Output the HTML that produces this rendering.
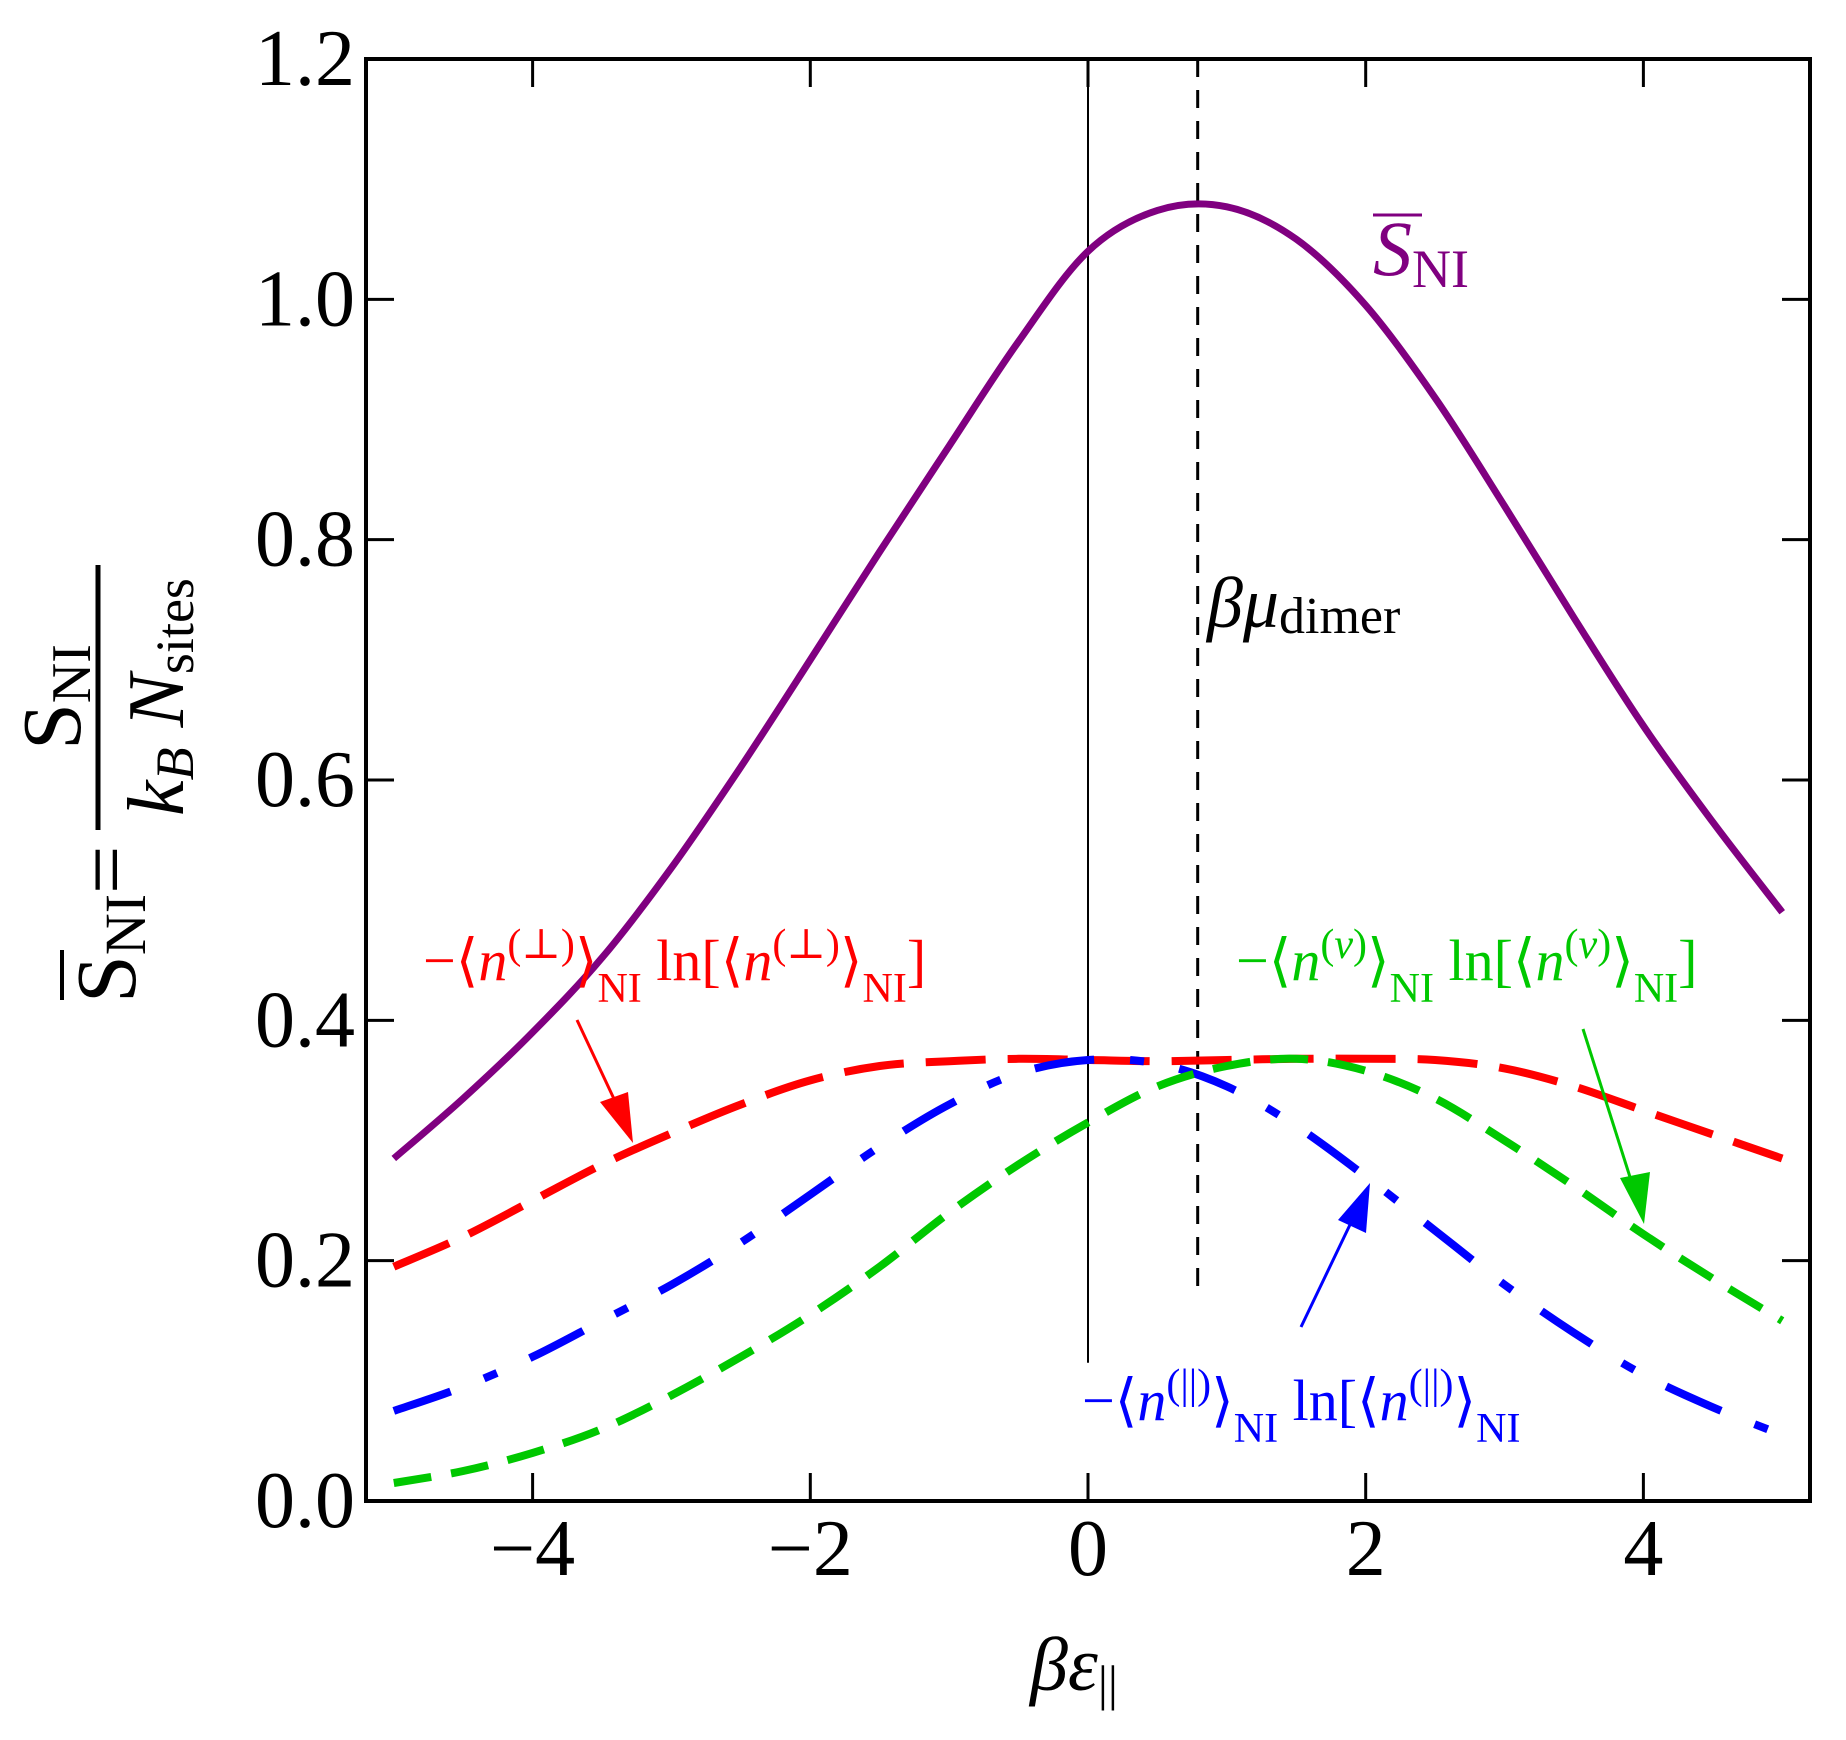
<!DOCTYPE html>
<html><head><meta charset="utf-8"><style>
html,body{margin:0;padding:0;background:#fff;}
svg{display:block;font-family:"Liberation Serif","DejaVu Serif",serif;}
</style></head><body>
<svg id="chart" width="1846" height="1740" viewBox="0 0 1846 1740" xmlns="http://www.w3.org/2000/svg">
<g id="marks"></g>
<g id="axes"></g>
<text x="1373" y="275" font-size="78" fill="#800080" font-style="italic">S<tspan font-style="normal" font-size="54" dy="12">NI</tspan></text>
<line x1="1373" y1="215" x2="1422" y2="215" stroke="#800080" stroke-width="3"/>
<text x="1207" y="627" font-size="72" fill="#000"><tspan font-style="italic">βμ</tspan><tspan font-size="52" dy="6">dimer</tspan></text>
<text x="423" y="980" font-size="58" fill="#ff0000">−⟨<tspan font-style="italic">n</tspan><tspan font-size="42" dy="-22">(⊥)</tspan><tspan dy="22">⟩</tspan><tspan font-size="42" dy="22">NI</tspan><tspan dy="-22"> ln[⟨</tspan><tspan font-style="italic">n</tspan><tspan font-size="42" dy="-22">(⊥)</tspan><tspan dy="22">⟩</tspan><tspan font-size="42" dy="22">NI</tspan><tspan dy="-22">]</tspan></text>
<text x="1236" y="980" font-size="58" fill="#00c800">−⟨<tspan font-style="italic">n</tspan><tspan font-size="42" dy="-22">(<tspan font-style="italic">v</tspan>)</tspan><tspan dy="22">⟩</tspan><tspan font-size="42" dy="22">NI</tspan><tspan dy="-22"> ln[⟨</tspan><tspan font-style="italic">n</tspan><tspan font-size="42" dy="-22">(<tspan font-style="italic">v</tspan>)</tspan><tspan dy="22">⟩</tspan><tspan font-size="42" dy="22">NI</tspan><tspan dy="-22">]</tspan></text>
<text x="1082" y="1420" font-size="58" fill="#0000ff">−⟨<tspan font-style="italic">n</tspan><tspan font-size="42" dy="-22">(||)</tspan><tspan dy="22">⟩</tspan><tspan font-size="42" dy="22">NI</tspan><tspan dy="-22"> ln[⟨</tspan><tspan font-style="italic">n</tspan><tspan font-size="42" dy="-22">(||)</tspan><tspan dy="22">⟩</tspan><tspan font-size="42" dy="22">NI</tspan></text>
<g><line x1="577" y1="1020" x2="622" y2="1116" stroke="#ff0000" stroke-width="3"/><polygon points="633,1143 600,1102 628,1092" fill="#ff0000"/></g>
<g><line x1="1583" y1="1029" x2="1636" y2="1196" stroke="#00c800" stroke-width="3"/><polygon points="1644,1224 1620,1178 1650,1172" fill="#00c800"/></g>
<g><line x1="1301" y1="1327" x2="1358" y2="1208" stroke="#0000ff" stroke-width="3"/><polygon points="1370,1183 1366,1233 1338,1220" fill="#0000ff"/></g>
<text x="1030" y="1690" font-size="76" font-style="italic">βε<tspan font-style="normal" font-size="50" dy="10">||</tspan></text>
<g>
<text transform="translate(135,1003) rotate(-90)" font-size="86">S<tspan font-size="58" dy="10">NI</tspan><tspan dy="-10">=</tspan></text>
<line x1="62" y1="950" x2="62" y2="1000" stroke="#000" stroke-width="4"/>
<line x1="98" y1="565" x2="98" y2="830" stroke="#000" stroke-width="5"/>
<text transform="translate(80,697) rotate(-90)" font-size="84" text-anchor="middle">S<tspan font-size="56" dy="10">NI</tspan></text>
<text transform="translate(183,697) rotate(-90)" font-size="80" text-anchor="middle"><tspan font-style="italic">k</tspan><tspan font-style="italic" font-size="54" dy="10">B</tspan><tspan font-style="italic" dy="-10"> N</tspan><tspan font-size="54" dy="10">sites</tspan></text>
</g>
</svg>
<script>
const xs=[-5,-4.5,-4,-3.5,-3,-2.5,-2,-1.5,-1,-0.5,0,0.5,1,1.5,2,2.5,3,3.5,4,4.5,5];
const sTotal=[0.285,0.335,0.39,0.452,0.527,0.611,0.70,0.79,0.878,0.965,1.04,1.074,1.077,1.05,0.995,0.918,0.828,0.735,0.645,0.565,0.49];
const perp=[0.195,0.22,0.25,0.28,0.306,0.33,0.35,0.362,0.366,0.368,0.367,0.366,0.367,0.368,0.368,0.367,0.36,0.345,0.325,0.305,0.285];
const para=[0.075,0.095,0.12,0.15,0.18,0.215,0.255,0.295,0.33,0.356,0.367,0.364,0.345,0.312,0.27,0.225,0.18,0.14,0.105,0.078,0.055];
const vac=[0.015,0.025,0.04,0.06,0.088,0.12,0.155,0.195,0.24,0.28,0.315,0.345,0.362,0.368,0.358,0.335,0.3,0.262,0.222,0.185,0.15];
const xTicks=[-4,-2,0,2,4];
const xTickLabels=["−4","−2","0","2","4"];
const yTicks=[0,0.2,0.4,0.6,0.8,1.0,1.2];
const yTickLabels=["0.0","0.2","0.4","0.6","0.8","1.0","1.2"];
const muDimer=0.79;
const NS="http://www.w3.org/2000/svg";
const L=366,R=1810,T=59,B=1501,xmin=-5.2,xmax=5.2,ymin=0,ymax=1.2;
const X=v=>L+(v-xmin)/(xmax-xmin)*(R-L);
const Y=v=>B-(v-ymin)/(ymax-ymin)*(B-T);
function mk(tag,attrs,parent){const e=document.createElementNS(NS,tag);for(const k in attrs)e.setAttribute(k,attrs[k]);parent.appendChild(e);return e;}
function smooth(vals){
  const p=xs.map((x,i)=>[X(x),Y(vals[i])]);
  let d="M"+p[0][0].toFixed(1)+","+p[0][1].toFixed(1);
  for(let i=0;i<p.length-1;i++){
    const p0=p[i-1]||p[i],p1=p[i],p2=p[i+1],p3=p[i+2]||p2;
    const c1=[p1[0]+(p2[0]-p0[0])/6,p1[1]+(p2[1]-p0[1])/6];
    const c2=[p2[0]-(p3[0]-p1[0])/6,p2[1]-(p3[1]-p1[1])/6];
    d+=" C"+c1.map(v=>v.toFixed(1)).join(",")+" "+c2.map(v=>v.toFixed(1)).join(",")+" "+p2.map(v=>v.toFixed(1)).join(",");
  }
  return d;
}
const marks=document.getElementById('marks');
const axes=document.getElementById('axes');
let zl=mk('line',{x1:X(0),y1:T,x2:X(0),y2:Y(0.115),stroke:'#000','stroke-width':2},marks);


let ml=mk('line',{x1:X(muDimer),y1:T,x2:X(muDimer),y2:Y(0.17),stroke:'#000','stroke-width':3,'stroke-dasharray':'18,13'},marks);


const series=[
 {v:perp,c:'#ff0000',w:8,da:'60,22',n:'perp-series'},
 {v:para,c:'#0000ff',w:8,da:'60,36,14,36',n:'parallel-series'},
 {v:vac,c:'#00c800',w:8,da:'38,20',n:'vacancy-series'},
 {v:sTotal,c:'#800080',w:7,da:'',n:'total-entropy-series'}
];
series.forEach(s=>{
  const a={d:smooth(s.v),fill:'none',stroke:s.c,'stroke-width':s.w};
  if(s.da)a['stroke-dasharray']=s.da;
  const p=mk('path',a,marks);
  
  
});
const fr=mk('rect',{x:L,y:T,width:R-L,height:B-T,fill:'none',stroke:'#000','stroke-width':4},axes);


xTicks.forEach((t,i)=>{
  const g=mk('g',{},axes);
  
  
  mk('line',{x1:X(t),y1:B,x2:X(t),y2:B-28,stroke:'#000','stroke-width':3},g);
  mk('line',{x1:X(t),y1:T,x2:X(t),y2:T+28,stroke:'#000','stroke-width':3},g);
  const tx=mk('text',{x:X(t),y:1575,'font-size':80,'text-anchor':'middle'},g);
  tx.textContent=xTickLabels[i];
});
yTicks.forEach((t,i)=>{
  const g=mk('g',{},axes);
  
  
  mk('line',{x1:L,y1:Y(t),x2:L+28,y2:Y(t),stroke:'#000','stroke-width':3},g);
  mk('line',{x1:R,y1:Y(t),x2:R-28,y2:Y(t),stroke:'#000','stroke-width':3},g);
  const tx=mk('text',{x:355,y:Y(t)+26,'font-size':80,'text-anchor':'end'},g);
  tx.textContent=yTickLabels[i];
});
</script>
</body></html>
